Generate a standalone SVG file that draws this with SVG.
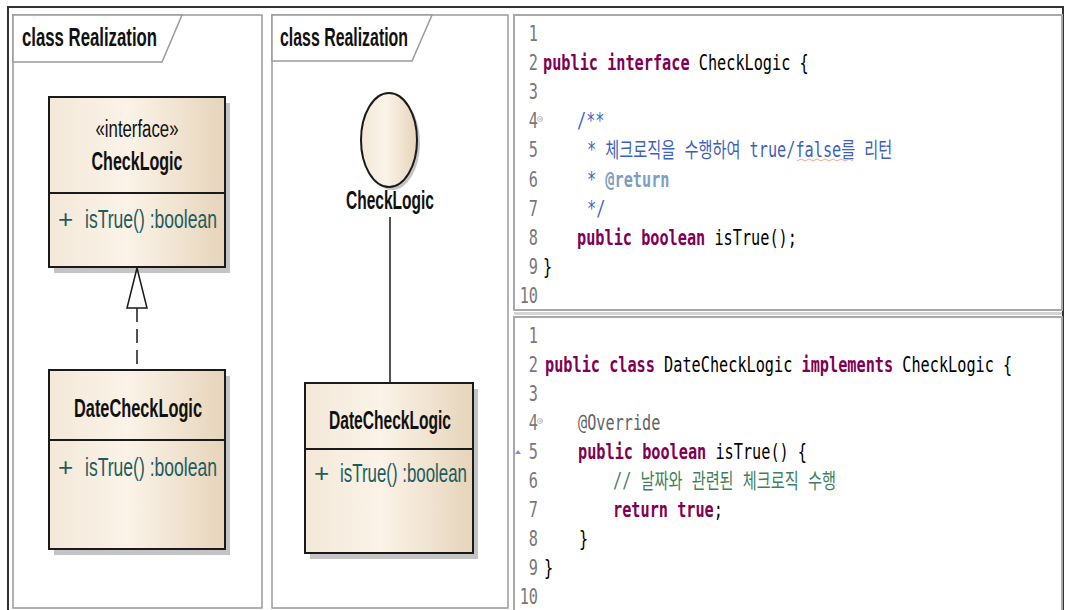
<svg xmlns="http://www.w3.org/2000/svg" width="1066" height="610" viewBox="0 0 1066 610">
  <defs>
    <linearGradient id="beige" x1="0" y1="0" x2="1" y2="0">
      <stop offset="0" stop-color="#f3e8d9"/>
      <stop offset="0.45" stop-color="#fbf3e8"/>
      <stop offset="1" stop-color="#e6d4ba"/>
    </linearGradient>
    <style>
      .frame { fill: none; stroke: #333; stroke-width: 2; }
      .panel { fill: #fff; stroke: #9a9a9a; stroke-width: 1.5; }
      .tab { fill: #fff; stroke: #9a9a9a; stroke-width: 1.5; }
      .title { font-family: "Liberation Sans Narrow", "Liberation Sans", Arial, sans-serif; font-weight: bold; font-size: 26px; fill: #111; }
      .box { fill: url(#beige); stroke: #1a1a1a; stroke-width: 2; }
      .shadow { fill: #c4c4c4; }
      .div { stroke: #1a1a1a; stroke-width: 2; }
      .uml { font-family: "Liberation Sans Narrow", "Liberation Sans", Arial, sans-serif; font-size: 26px; fill: #111; }
      .name { font-weight: bold; font-size: 25px; }
      .stereo { font-size: 23px; }
      .member { fill: #1e5c5c; }
      .conn { stroke: #1a1a1a; stroke-width: 1.5; fill: none; }
      .code-panel { fill: #fff; stroke: #a8a8a8; stroke-width: 2; }
      .code { font-family: "DejaVu Sans Mono", "Noto Sans CJK KR", monospace; font-size: 21px; fill: #000; white-space: pre; }
      .ln { fill: #787878; }
      .kw { fill: #7f0055; font-weight: bold; }
      .doc { fill: #3f5fbf; }
      .tag { fill: #7f9fbf; font-weight: bold; }
      .cmt { fill: #3f7f5f; }
      .ann { fill: #646464; }
    </style>
  </defs>

  <rect width="1066" height="610" fill="#fff"/>

  <!-- outer frame -->
  <path class="frame" d="M8,611 V7 H1063 V611"/>

  <!-- left diagram panel: class notation -->
  <g id="panel-class">
    <rect class="panel" x="13" y="15" width="249" height="593"/>
    <path class="tab" d="M13,15 H182 L162,62 H13 Z"/>
    <text class="title" x="22" y="46" textLength="135" lengthAdjust="spacingAndGlyphs">class Realization</text>
  </g>

  <g id="node-checklogic-interface">
    <rect class="shadow" x="54" y="103" width="176" height="170"/>
    <rect class="box" x="49" y="97" width="176" height="170"/>
    <line class="div" x1="49" y1="193" x2="225" y2="193"/>
    <text class="uml stereo" x="137" y="137" text-anchor="middle" textLength="83" lengthAdjust="spacingAndGlyphs">«interface»</text>
    <text class="uml name" x="137" y="170" text-anchor="middle" textLength="91" lengthAdjust="spacingAndGlyphs">CheckLogic</text>
    <text class="uml member" x="58" y="228">+</text>
    <text class="uml member" x="85" y="228" textLength="132" lengthAdjust="spacingAndGlyphs">isTrue()  :boolean</text>
  </g>

  <g id="node-datechecklogic-1">
    <rect class="shadow" x="54" y="376" width="176" height="179"/>
    <rect class="box" x="49" y="370" width="176" height="179"/>
    <line class="div" x1="49" y1="440" x2="225" y2="440"/>
    <text class="uml name" x="138" y="417" text-anchor="middle" textLength="128" lengthAdjust="spacingAndGlyphs">DateCheckLogic</text>
    <text class="uml member" x="58" y="476">+</text>
    <text class="uml member" x="85" y="476" textLength="132" lengthAdjust="spacingAndGlyphs">isTrue()  :boolean</text>
  </g>

  <!-- middle diagram panel: lollipop notation -->
  <g id="panel-lollipop">
    <rect class="panel" x="272" y="15" width="236" height="593"/>
    <path class="tab" d="M272,15 H432 L412,61 H272 Z"/>
    <text class="title" x="280" y="46" textLength="128" lengthAdjust="spacingAndGlyphs">class Realization</text>
  </g>

  <g id="node-checklogic-lollipop">
    <ellipse class="shadow" cx="392" cy="143" rx="28" ry="47"/>
    <ellipse class="box" cx="389" cy="140" rx="28" ry="47"/>
    <text class="uml name" x="390" y="209" text-anchor="middle" textLength="88" lengthAdjust="spacingAndGlyphs">CheckLogic</text>
  </g>

  <g id="node-datechecklogic-2">
    <rect class="shadow" x="310" y="389" width="168" height="170"/>
    <rect class="box" x="305" y="383" width="168" height="170"/>
    <line class="div" x1="305" y1="449" x2="473" y2="449"/>
    <text class="uml name" x="390" y="429" text-anchor="middle" textLength="122" lengthAdjust="spacingAndGlyphs">DateCheckLogic</text>
    <text class="uml member" x="314" y="482">+</text>
    <text class="uml member" x="340" y="482" textLength="127" lengthAdjust="spacingAndGlyphs">isTrue()  :boolean</text>
  </g>

  <!-- connectors -->
  <g id="connectors">
    <line class="conn" x1="137" y1="308" x2="137" y2="370" stroke-dasharray="14 7"/>
    <path class="conn" d="M137,268 L147,308 H127 Z" fill="#fff"/>
    <line class="conn" x1="390" y1="217" x2="390" y2="383"/>
  </g>

  <!-- code listing: CheckLogic.java -->
  <g id="code-interface">
    <rect class="code-panel" x="514" y="15" width="548" height="295"/>
    <g class="code">
      <text class="ln" text-anchor="end" transform="translate(538 41) scale(0.725 1)">1</text>
      <text class="ln" text-anchor="end" transform="translate(538 70) scale(0.725 1)">2</text>
      <text class="ln" text-anchor="end" transform="translate(538 99) scale(0.725 1)">3</text>
      <text class="ln" text-anchor="end" transform="translate(538 128) scale(0.725 1)">4</text>
      <text class="ln" text-anchor="end" transform="translate(538 157) scale(0.725 1)">5</text>
      <text class="ln" text-anchor="end" transform="translate(538 187) scale(0.725 1)">6</text>
      <text class="ln" text-anchor="end" transform="translate(538 216) scale(0.725 1)">7</text>
      <text class="ln" text-anchor="end" transform="translate(538 245) scale(0.725 1)">8</text>
      <text class="ln" text-anchor="end" transform="translate(538 274) scale(0.725 1)">9</text>
      <text class="ln" text-anchor="end" transform="translate(538 303) scale(0.725 1)">10</text>

      <text transform="translate(543 70) scale(0.725 1)"><tspan class="kw">public</tspan> <tspan class="kw">interface</tspan> CheckLogic {</text>
      <text class="doc" transform="translate(577 128) scale(0.725 1)">/**</text>
      <text class="doc" transform="translate(587 157) scale(0.725 1)">* 체크로직을 수행하여 true/false를 리턴</text>
      <text class="doc" transform="translate(587 187) scale(0.725 1)">* <tspan class="tag">@return</tspan></text>
      <text class="doc" transform="translate(587 216) scale(0.725 1)">*/</text>
      <text transform="translate(577 245) scale(0.725 1)"><tspan class="kw">public</tspan> <tspan class="kw">boolean</tspan> isTrue();</text>
      <text transform="translate(543 274) scale(0.725 1)">}</text>
    </g>
    <!-- fold marker and spelling underline -->
    <circle cx="540" cy="119" r="2.5" fill="#fff" stroke="#aaa" stroke-width="0.8"/>
    <line x1="539" y1="119" x2="541.5" y2="119" stroke="#888" stroke-width="0.8"/>
    <polyline points="797,161 801,159 805,161 809,159 813,161 817,159 821,161 825,159 829,161 833,159 837,161 841,159 845,161 849,159 853,161" fill="none" stroke="#f2a890" stroke-width="1"/>
  </g>

  <!-- code listing: DateCheckLogic.java -->
  <g id="code-impl">
    <line x1="514" y1="313.5" x2="1062" y2="313.5" stroke="#d4d4d4" stroke-width="3"/>
    <rect class="code-panel" x="514" y="317" width="548" height="300"/>
    <g class="code">
      <text class="ln" text-anchor="end" transform="translate(538 343) scale(0.725 1)">1</text>
      <text class="ln" text-anchor="end" transform="translate(538 372) scale(0.725 1)">2</text>
      <text class="ln" text-anchor="end" transform="translate(538 401) scale(0.725 1)">3</text>
      <text class="ln" text-anchor="end" transform="translate(538 430) scale(0.725 1)">4</text>
      <text class="ln" text-anchor="end" transform="translate(538 459) scale(0.725 1)">5</text>
      <text class="ln" text-anchor="end" transform="translate(538 488) scale(0.725 1)">6</text>
      <text class="ln" text-anchor="end" transform="translate(538 517) scale(0.725 1)">7</text>
      <text class="ln" text-anchor="end" transform="translate(538 546) scale(0.725 1)">8</text>
      <text class="ln" text-anchor="end" transform="translate(538 575) scale(0.725 1)">9</text>
      <text class="ln" text-anchor="end" transform="translate(538 604) scale(0.725 1)">10</text>

      <text transform="translate(545 372) scale(0.725 1)"><tspan class="kw">public</tspan> <tspan class="kw">class</tspan> DateCheckLogic <tspan class="kw">implements</tspan> CheckLogic {</text>
      <text class="ann" transform="translate(578 430) scale(0.725 1)">@Override</text>
      <text transform="translate(578 459) scale(0.725 1)"><tspan class="kw">public</tspan> <tspan class="kw">boolean</tspan> isTrue() {</text>
      <text class="cmt" transform="translate(613 488) scale(0.725 1)">// 날짜와 관련된 체크로직 수행</text>
      <text transform="translate(613 517) scale(0.725 1)"><tspan class="kw">return</tspan> <tspan class="kw">true</tspan>;</text>
      <text transform="translate(579 546) scale(0.725 1)">}</text>
      <text transform="translate(544 575) scale(0.725 1)">}</text>
    </g>
    <!-- fold marker and override indicator -->
    <circle cx="540" cy="421" r="2.5" fill="#fff" stroke="#aaa" stroke-width="0.8"/>
    <line x1="539" y1="421" x2="541.5" y2="421" stroke="#888" stroke-width="0.8"/>
    <path d="M515,454 L518,450 L521,454 Z" fill="#8a8ad0"/>
  </g>
</svg>
